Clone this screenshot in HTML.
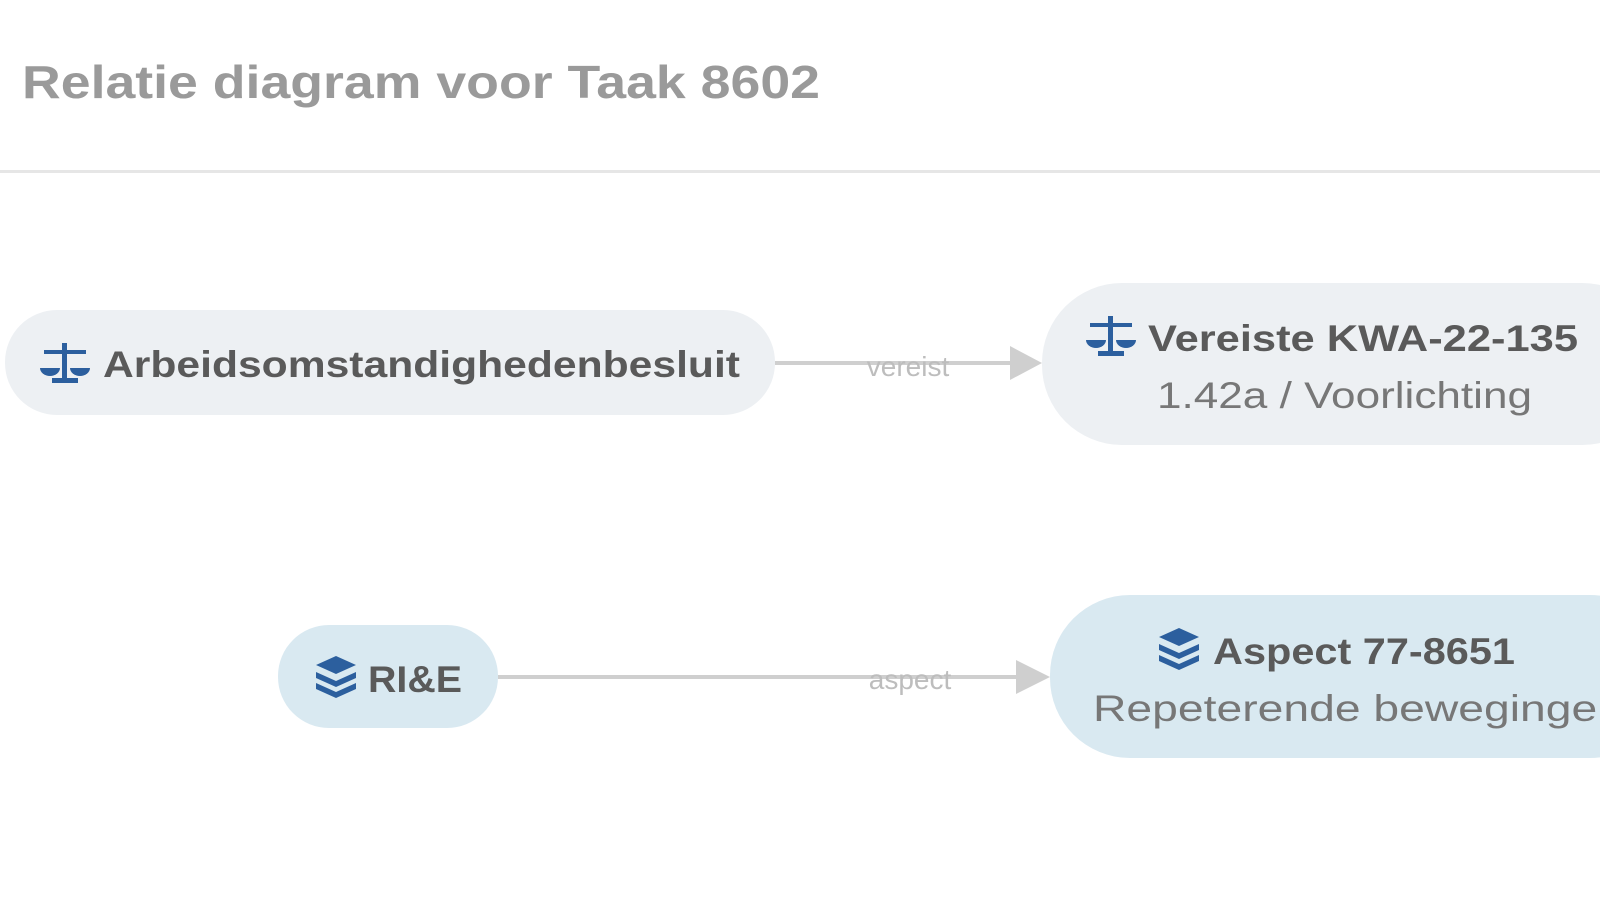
<!DOCTYPE html>
<html><head><meta charset="utf-8"><style>
html,body{margin:0;padding:0;background:#fff;width:1600px;height:900px;overflow:hidden}
svg{display:block}
text{font-family:"Liberation Sans",sans-serif}
</style></head><body>
<svg width="1600" height="900" viewBox="0 0 1600 900">
<text x="22" y="98" font-size="46" fill="#9a9a9a" font-weight="bold" textLength="798" lengthAdjust="spacingAndGlyphs">Relatie diagram voor Taak 8602</text>
<rect x="0" y="170" width="1600" height="3" fill="#e6e6e6"/>

<!-- edges -->
<line x1="775" y1="363" x2="1012" y2="363" stroke="#cfcfcf" stroke-width="4"/>
<polygon points="1010,346 1042,363 1010,380" fill="#cfcfcf"/>
<text x="908" y="376" font-size="28" fill="#bdbdbd" text-anchor="middle">vereist</text>
<line x1="498" y1="677" x2="1018" y2="677" stroke="#cfcfcf" stroke-width="4"/>
<polygon points="1016,660 1050,677 1016,694" fill="#cfcfcf"/>
<text x="910" y="689" font-size="28" fill="#bdbdbd" text-anchor="middle">aspect</text>

<!-- node 1 -->
<rect x="5" y="310" width="770" height="105" rx="52" fill="#edf0f3"/>
<g fill="#2c5f9e">
<rect x="62" y="343" width="5" height="38"/><rect x="44" y="350" width="42" height="4"/><rect x="52" y="378" width="26" height="5"/>
<path d="M40 368 h20 a10 8 0 0 1 -20 0z"/><path d="M70 368 h20 a10 8 0 0 1 -20 0z"/>
</g>
<text x="103" y="377" font-size="37" fill="#5a5a5a" font-weight="bold" textLength="637" lengthAdjust="spacingAndGlyphs">Arbeidsomstandighedenbesluit</text>

<!-- node 2 -->
<rect x="1042" y="283" width="620" height="162" rx="80" fill="#edf0f3"/>
<g fill="#2c5f9e">
<rect x="1108" y="316" width="5" height="38"/><rect x="1090" y="323" width="42" height="4"/><rect x="1098" y="351" width="26" height="5"/>
<path d="M1086 340 h20 a10 8 0 0 1 -20 0z"/><path d="M1116 340 h20 a10 8 0 0 1 -20 0z"/>
</g>
<text x="1148" y="351" font-size="37" fill="#5a5a5a" font-weight="bold" textLength="430" lengthAdjust="spacingAndGlyphs">Vereiste KWA-22-135</text>
<text x="1157" y="408" font-size="37" fill="#777" textLength="375" lengthAdjust="spacingAndGlyphs">1.42a / Voorlichting</text>

<!-- node 3 -->
<rect x="278" y="625" width="220" height="103" rx="51" fill="#d9e9f1"/>
<g fill="#2c5f9e">
<path d="M336 656 l20 9 -20 9 -20 -9z"/><path d="M316 672 l20 9 20 -9 v6 l-20 9 -20 -9z"/><path d="M316 683 l20 9 20 -9 v6 l-20 9 -20 -9z"/>
</g>
<text x="368" y="692" font-size="37" fill="#5a5a5a" font-weight="bold" textLength="94" lengthAdjust="spacingAndGlyphs">RI&amp;E</text>

<!-- node 4 -->
<rect x="1050" y="595" width="620" height="163" rx="80" fill="#d9e9f1"/>
<g fill="#2c5f9e">
<path d="M1179 628 l20 9 -20 9 -20 -9z"/><path d="M1159 644 l20 9 20 -9 v6 l-20 9 -20 -9z"/><path d="M1159 655 l20 9 20 -9 v6 l-20 9 -20 -9z"/>
</g>
<text x="1213" y="664" font-size="37" fill="#5a5a5a" font-weight="bold" textLength="302" lengthAdjust="spacingAndGlyphs">Aspect 77-8651</text>
<text x="1093" y="721" font-size="37" fill="#777" textLength="530" lengthAdjust="spacingAndGlyphs">Repeterende bewegingen</text>
</svg>
</body></html>
